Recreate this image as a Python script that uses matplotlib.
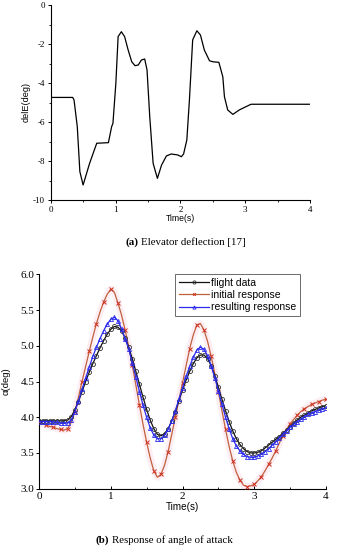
import matplotlib
matplotlib.use("Agg")
import matplotlib.pyplot as plt
import numpy as np

# ---------------- data ----------------
# (a) elevator deflection
t_de = [0.00, 0.34, 0.36, 0.41, 0.45, 0.50, 0.60, 0.71, 0.89, 0.94, 0.96, 1.005, 1.04, 1.09,
        1.14, 1.195, 1.25, 1.30, 1.35, 1.40, 1.45, 1.486, 1.528, 1.58, 1.646, 1.71, 1.785,
        1.86, 1.96, 2.015, 2.05, 2.10, 2.14, 2.19, 2.255, 2.31, 2.37, 2.45, 2.50, 2.594,
        2.655, 2.68, 2.73, 2.81, 2.91, 3.09, 4.00]
delE = [-4.74, -4.74, -4.87, -6.24, -8.55, -9.23, -8.12, -7.09, -7.06, -6.24, -6.07, -4.02,
        -1.62, -1.37, -1.62, -2.31, -2.91, -3.11, -3.08, -2.82, -2.77, -3.33, -5.73, -8.12,
        -8.89, -8.21, -7.74, -7.64, -7.69, -7.78, -7.64, -6.92, -4.87, -1.79, -1.32, -1.54,
        -2.31, -2.86, -2.91, -2.94, -3.68, -4.70, -5.38, -5.61, -5.38, -5.09, -5.09]

# (b) angle of attack, sampled every 0.05 s
time_b = [round(0.05 * i, 2) for i in range(81)]
flight_data = [3.95, 3.95, 3.95, 3.95, 3.95, 3.95, 3.95, 3.95, 3.96, 4.01,
               4.10, 4.22, 4.36, 4.50, 4.63, 4.75, 4.86, 4.97, 5.07, 5.16,
               5.23, 5.27, 5.26, 5.21, 5.11, 4.98, 4.82, 4.64, 4.46, 4.28,
               4.11, 3.96, 3.84, 3.76, 3.74, 3.77, 3.84, 3.95, 4.08, 4.23,
               4.38, 4.52, 4.64, 4.75, 4.83, 4.87, 4.87, 4.82, 4.72, 4.58,
               4.42, 4.25, 4.09, 3.94, 3.81, 3.70, 3.62, 3.56, 3.52, 3.50,
               3.50, 3.51, 3.53, 3.57, 3.61, 3.65, 3.69, 3.73, 3.78, 3.82,
               3.87, 3.92, 3.96, 4.00, 4.03, 4.06, 4.09, 4.11, 4.13, 4.15, 4.16]
initial_response = [3.93, 3.91, 3.89, 3.87, 3.86, 3.84, 3.83, 3.82, 3.84, 3.93,
                    4.08, 4.28, 4.50, 4.71, 4.92, 5.12, 5.31, 5.47, 5.61, 5.72,
                    5.79, 5.75, 5.60, 5.43, 5.22, 4.99, 4.73, 4.45, 4.17, 3.90,
                    3.65, 3.43, 3.25, 3.16, 3.20, 3.33, 3.52, 3.76, 4.00, 4.24,
                    4.48, 4.72, 4.96, 5.15, 5.29, 5.31, 5.22, 5.06, 4.85, 4.61,
                    4.36, 4.09, 3.83, 3.59, 3.39, 3.23, 3.12, 3.05, 3.03, 3.04,
                    3.06, 3.11, 3.17, 3.25, 3.34, 3.43, 3.53, 3.64, 3.74, 3.83,
                    3.91, 3.97, 4.03, 4.08, 4.12, 4.15, 4.18, 4.20, 4.22, 4.24, 4.25]
resulting_response = [3.94, 3.94, 3.94, 3.94, 3.93, 3.93, 3.92, 3.92, 3.92, 3.96,
                      4.08, 4.23, 4.39, 4.55, 4.70, 4.85, 4.98, 5.10, 5.21, 5.30,
                      5.37, 5.40, 5.35, 5.24, 5.10, 4.96, 4.76, 4.56, 4.36, 4.17,
                      4.00, 3.85, 3.75, 3.70, 3.70, 3.75, 3.83, 3.95, 4.09, 4.25,
                      4.41, 4.57, 4.71, 4.84, 4.94, 4.98, 4.95, 4.86, 4.72, 4.55,
                      4.37, 4.18, 4.00, 3.84, 3.70, 3.60, 3.53, 3.48, 3.45, 3.44,
                      3.44, 3.46, 3.48, 3.52, 3.56, 3.61, 3.66, 3.71, 3.76, 3.81,
                      3.86, 3.90, 3.94, 3.97, 4.01, 4.04, 4.06, 4.08, 4.10, 4.12, 4.13]
series_labels = ["flight data", "initial response", "resulting response"]
caption_a = ("(a)", "Elevator deflection [17]")
caption_b = ("(b)", "Response of angle of attack")

# ---------------- figure ----------------
W, H = 338, 550
fig = plt.figure(figsize=(W / 100, H / 100), dpi=100)
fig.patch.set_facecolor("white")

def fx(x):
    return x / W

def fy(y):
    return 1 - y / H

serif = ["Liberation Serif", "DejaVu Serif"]
sans = ["Liberation Sans", "DejaVu Sans"]

# ---- (a) ----
ax1 = fig.add_axes([fx(50.7), fy(200), fx(310) - fx(50.7), fy(5) - fy(200)])
ax1.plot(t_de, delE, color="black", lw=0.9)
ax1.set_xlim(0, 4)
ax1.set_ylim(-10, 0)
for s in ["top", "right"]:
    ax1.spines[s].set_visible(False)
for s in ["left", "bottom"]:
    ax1.spines[s].set_linewidth(0.8)
ax1.set_xticks([0, 1, 2, 3, 4])
ax1.set_xticks([0.5, 1.5, 2.5, 3.5], minor=True)
ax1.set_yticks([0, -2, -4, -6, -8, -10])
ax1.set_yticks([-1, -3, -5, -7, -9], minor=True)
ax1.tick_params(which="major", direction="out", length=2.5, width=0.7, labelsize=6.5, pad=1.5)
ax1.tick_params(which="minor", direction="out", length=1.5, width=0.6)
ax1.set_yticklabels(["0", "-2", "-4", "-6", "-8", "-10"])
for lab in ax1.get_xticklabels() + ax1.get_yticklabels():
    lab.set_family(serif)
ax1.set_xlabel("Time(s)", family=sans, fontsize=6.2, labelpad=0.5)
ax1.set_ylabel("delE(deg)", family=sans, fontsize=6.6)
w1 = fx(310) - fx(50.7)
ax1.yaxis.set_label_coords((fx(31) - fx(50.7)) / w1, 0.5)

# ---- (b) ----
ax2 = fig.add_axes([fx(39), fy(488.7), fx(326) - fx(39), fy(274.3) - fy(488.7)])
red_line = "#c0603c"
red_mark = "#d03020"
blue = "#2a2aee"
# faint pink tint around red curve
ax2.plot(time_b, initial_response, color="#fdeef4", lw=5, zorder=1,
         solid_capstyle="butt")
ax2.plot(time_b, initial_response, color=red_line, lw=0.9, marker="x", ms=2.4,
         mec=red_mark, mew=0.7, markevery=2, zorder=3, label=series_labels[1])
ax2.plot(time_b, flight_data, color="#111111", lw=0.9, marker="o", ms=2.9,
         mfc="none", mec="#333333", mew=0.6, zorder=4, label=series_labels[0])
ax2.plot(time_b, resulting_response, color=blue, lw=0.9, marker="^", ms=2.9,
         mfc="none", mec=blue, mew=0.6, zorder=5, label=series_labels[2])
ax2.set_xlim(0, 4)
ax2.set_ylim(3.0, 6.0)
for s in ["top", "right"]:
    ax2.spines[s].set_visible(False)
for s in ["left", "bottom"]:
    ax2.spines[s].set_linewidth(0.8)
ax2.set_xticks([0, 1, 2, 3, 4])
ax2.set_xticks([0.5, 1.5, 2.5, 3.5], minor=True)
ax2.set_yticks([3.0, 3.5, 4.0, 4.5, 5.0, 5.5, 6.0])
ax2.tick_params(axis="x", which="major", direction="in", length=2.5, width=0.7, labelsize=8, pad=2.5)
ax2.tick_params(axis="x", which="minor", direction="in", length=1.8, width=0.6)
ax2.tick_params(axis="y", which="major", direction="out", length=2.5, width=0.7, labelsize=8, pad=1)
ax2.set_yticklabels(["3.0", "3.5", "4.0", "4.5", "5.0", "5.5", "6.0"])
for lab in ax2.get_xticklabels() + ax2.get_yticklabels():
    lab.set_family(serif)
ax2.set_xlabel("Time(s)", family=sans, fontsize=7.1, labelpad=0.5)
ax2.set_ylabel("\u03b1(deg)", family=sans, fontsize=6.8)
w2 = fx(326) - fx(39)
ax2.yaxis.set_label_coords((fx(11) - fx(39)) / w2, 0.5)

handles, labels = ax2.get_legend_handles_labels()
order = [1, 0, 2]
leg = ax2.legend([handles[i] for i in order], [labels[i] for i in order],
                 loc="upper left", bbox_to_anchor=(fx(175), fy(274)),
                 bbox_transform=fig.transFigure, frameon=True, fancybox=False,
                 prop={"family": sans, "size": 7.5}, handlelength=2.9,
                 handletextpad=0.25, labelspacing=0.22, borderpad=0.35,
                 borderaxespad=0, markerscale=0.8)
leg.get_frame().set_edgecolor("#444444")
leg.get_frame().set_linewidth(0.7)

# ---- captions ----
fig.canvas.draw()
renderer = fig.canvas.get_renderer()

def caption(y, x_bold, parts):
    t1 = fig.text(fx(x_bold), fy(y), parts[0], family=serif, fontsize=7.8,
                  fontweight="bold", ha="left", va="center")
    bb = t1.get_window_extent(renderer=renderer)
    fig.text(fx(bb.x1 + 3.0), fy(y), parts[1], family=serif, fontsize=7.8,
             ha="left", va="center")

caption(241.7, 125, caption_a)
caption(540, 95, caption_b)

fig.savefig("out.png", dpi=100, facecolor="white")
